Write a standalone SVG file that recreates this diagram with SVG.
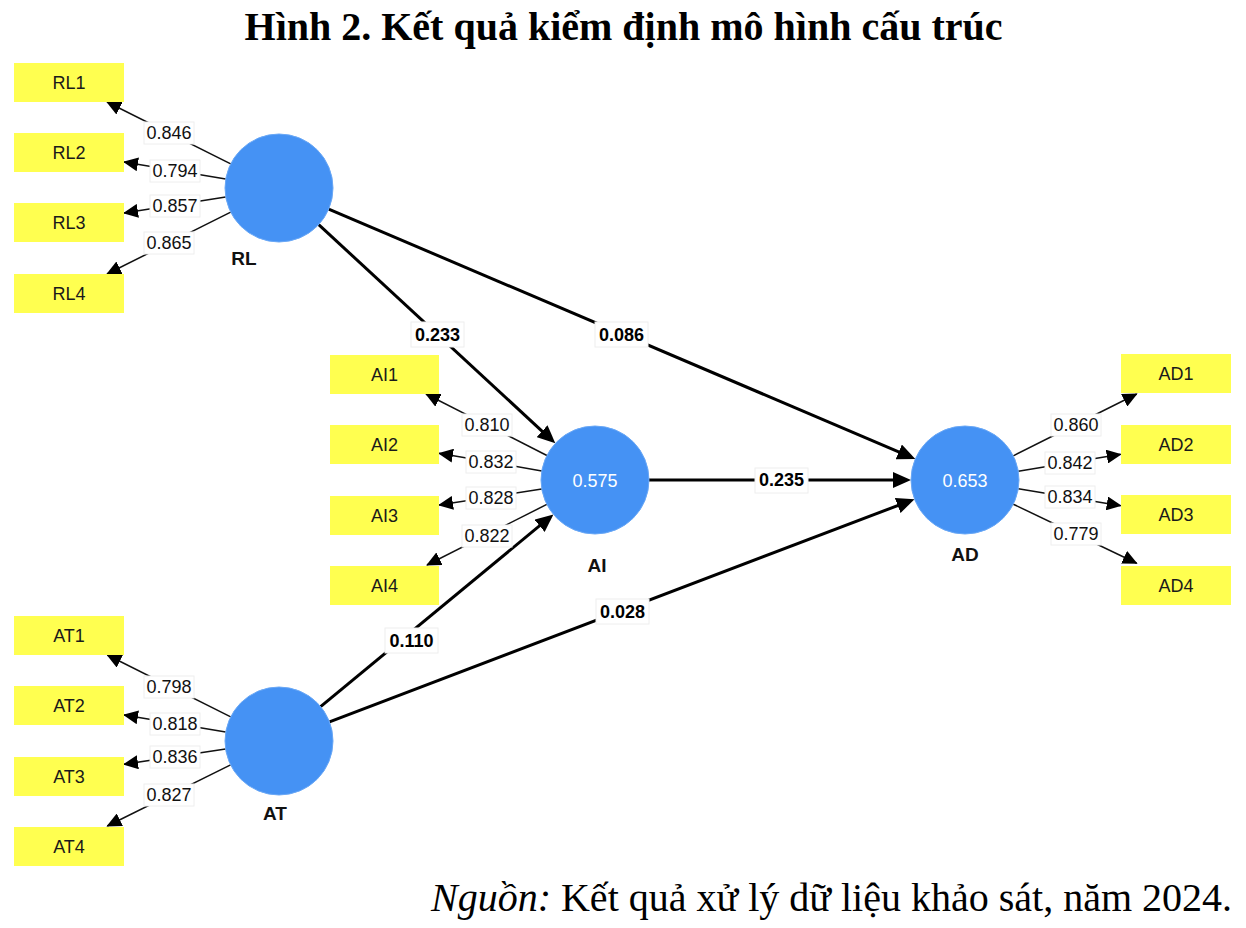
<svg xmlns="http://www.w3.org/2000/svg" width="1246" height="928" viewBox="0 0 1246 928">
<style>
.title{font-family:"Liberation Serif","Times New Roman",serif;font-weight:bold;font-size:40px;fill:#000}
.src{font-family:"Liberation Serif","Times New Roman",serif;font-size:40px;fill:#000}
.ind rect{fill:#ffff50}
.ind text{font-family:"Liberation Sans",Arial,sans-serif;font-size:18px;fill:#1a1a1a;text-anchor:middle}
.lat circle{fill:#4592f4;stroke:#6aa8f6;stroke-width:1}
.lat .val{font-family:"Liberation Sans",Arial,sans-serif;font-size:18px;fill:#fff;text-anchor:middle}
.lat .name{font-family:"Liberation Sans",Arial,sans-serif;font-size:19px;font-weight:bold;fill:#111;text-anchor:middle}
.ld{stroke:#111;stroke-width:1.5;fill:none;marker-end:url(#arrS)}
.pth{stroke:#000;stroke-width:3;fill:none;marker-end:url(#arrL)}
.lbl rect{fill:#fff;stroke:#eeeeee;stroke-width:1}
.lbl text{font-family:"Liberation Sans",Arial,sans-serif;font-size:18px;fill:#111;text-anchor:middle}
.plbl rect{fill:#fff;stroke:#eeeeee;stroke-width:1}
.plbl text{font-family:"Liberation Sans",Arial,sans-serif;font-size:18px;font-weight:bold;fill:#000;text-anchor:middle}
</style>
<defs>
<marker id="arrS" viewBox="0 0 15 14" markerWidth="15" markerHeight="14" refX="14" refY="7" orient="auto" markerUnits="userSpaceOnUse"><path d="M0,0 L15,7 L0,14 z" fill="#000"/></marker>
<marker id="arrL" viewBox="0 0 18 16" markerWidth="18" markerHeight="16" refX="12" refY="8" orient="auto" markerUnits="userSpaceOnUse"><path d="M0,0 L18,8 L0,16 z" fill="#000"/></marker>
</defs>
<rect x="0" y="0" width="1246" height="928" fill="#fff"/>
<text class="title" x="623.5" y="40" text-anchor="middle">Hình 2. Kết quả kiểm định mô hình cấu trúc</text>
<text class="src" x="1232" y="911" text-anchor="end"><tspan font-style="italic">Nguồn:</tspan> Kết quả xử lý dữ liệu khảo sát, năm 2024.</text>

<g id="connectors">
<!-- loadings RL -->
<line class="ld" x1="230.7" y1="163.8" x2="107" y2="102"/>
<line class="ld" x1="225.7" y1="179.1" x2="124" y2="162"/>
<line class="ld" x1="225.7" y1="196.9" x2="124" y2="213"/>
<line class="ld" x1="230.7" y1="212.2" x2="107" y2="274"/>
<!-- loadings AI -->
<line class="ld" x1="546.9" y1="455.5" x2="426" y2="394"/>
<line class="ld" x1="541.8" y1="470.9" x2="439" y2="453.3"/>
<line class="ld" x1="541.8" y1="489.1" x2="439" y2="505"/>
<line class="ld" x1="546.8" y1="504.4" x2="427" y2="565"/>
<!-- loadings AD -->
<line class="ld" x1="1013.3" y1="455.8" x2="1136.7" y2="394"/>
<line class="ld" x1="1018.3" y1="471.2" x2="1120.7" y2="454.3"/>
<line class="ld" x1="1018.3" y1="488.8" x2="1120.7" y2="505.7"/>
<line class="ld" x1="1013.3" y1="504.2" x2="1136.7" y2="563.3"/>
<!-- loadings AT -->
<line class="ld" x1="230.7" y1="716.8" x2="107.3" y2="655"/>
<line class="ld" x1="225.7" y1="732.1" x2="124" y2="715"/>
<line class="ld" x1="225.6" y1="749" x2="124" y2="764.3"/>
<line class="ld" x1="230.6" y1="764.9" x2="107.3" y2="826"/>
<!-- structural paths -->
<line class="pth" x1="318.7" y1="224.6" x2="550.9" y2="439.3"/>
<line class="pth" x1="328.7" y1="209.1" x2="909.8" y2="456.6"/>
<line class="pth" x1="649" y1="480" x2="905" y2="480"/>
<line class="pth" x1="320.6" y1="706.6" x2="548.8" y2="518.2"/>
<line class="pth" x1="329.5" y1="721.8" x2="908.9" y2="501.3"/>
<!-- loading labels -->
<g class="lbl">
<rect x="144" y="122" width="50" height="22"/><text x="169" y="139.4">0.846</text>
<rect x="150" y="160" width="50" height="22"/><text x="175" y="177.4">0.794</text>
<rect x="150" y="195" width="50" height="22"/><text x="175" y="212.4">0.857</text>
<rect x="144" y="232" width="50" height="22"/><text x="169" y="249.4">0.865</text>
<rect x="462" y="414" width="50" height="22"/><text x="487" y="431.4">0.810</text>
<rect x="466" y="451" width="50" height="22"/><text x="491" y="468.4">0.832</text>
<rect x="466" y="487" width="50" height="22"/><text x="491" y="504.4">0.828</text>
<rect x="462" y="525" width="50" height="22"/><text x="487" y="542.4">0.822</text>
<rect x="1051" y="414" width="50" height="22"/><text x="1076" y="431.4">0.860</text>
<rect x="1045" y="452" width="50" height="22"/><text x="1070" y="469.4">0.842</text>
<rect x="1045" y="486" width="50" height="22"/><text x="1070" y="503.4">0.834</text>
<rect x="1051" y="523" width="50" height="22"/><text x="1076" y="540.4">0.779</text>
<rect x="144" y="676" width="50" height="22"/><text x="169" y="693.4">0.798</text>
<rect x="150" y="713" width="50" height="22"/><text x="175" y="730.4">0.818</text>
<rect x="150" y="746" width="50" height="22"/><text x="175" y="763.4">0.836</text>
<rect x="144" y="784" width="50" height="22"/><text x="169" y="801.4">0.827</text>
</g>
<!-- path labels -->
<g class="plbl">
<rect x="411" y="322" width="53" height="25"/><text x="437.5" y="340.9">0.233</text>
<rect x="595" y="322" width="53" height="25"/><text x="621.5" y="340.9">0.086</text>
<rect x="755" y="468" width="53" height="25"/><text x="781.5" y="486.4">0.235</text>
<rect x="385" y="628" width="53" height="25"/><text x="411.5" y="646.9">0.110</text>
<rect x="596" y="599" width="53" height="25"/><text x="622.5" y="617.9">0.028</text>
</g>
</g>

<g id="RL" class="lat"><circle cx="279" cy="188" r="54"/><text class="name" x="244" y="264.5">RL</text></g>
<g id="AI" class="lat"><circle cx="595" cy="480" r="54"/><text class="val" x="595" y="486.5">0.575</text><text class="name" x="597" y="572">AI</text></g>
<g id="AD" class="lat"><circle cx="965" cy="480" r="54"/><text class="val" x="965" y="486.5">0.653</text><text class="name" x="965" y="561">AD</text></g>
<g id="AT" class="lat"><circle cx="279" cy="741" r="54"/><text class="name" x="275" y="819.5">AT</text></g>

<g id="RL1" class="ind"><rect x="14" y="63" width="110" height="39"/><text x="69" y="89">RL1</text></g>
<g id="RL2" class="ind"><rect x="14" y="133" width="110" height="39"/><text x="69" y="159">RL2</text></g>
<g id="RL3" class="ind"><rect x="14" y="203" width="110" height="39"/><text x="69" y="229">RL3</text></g>
<g id="RL4" class="ind"><rect x="14" y="274" width="110" height="39"/><text x="69" y="300">RL4</text></g>
<g id="AI1" class="ind"><rect x="330" y="355" width="109" height="39"/><text x="384.5" y="381">AI1</text></g>
<g id="AI2" class="ind"><rect x="330" y="425" width="109" height="39"/><text x="384.5" y="451">AI2</text></g>
<g id="AI3" class="ind"><rect x="330" y="496" width="109" height="39"/><text x="384.5" y="522">AI3</text></g>
<g id="AI4" class="ind"><rect x="330" y="566" width="109" height="39"/><text x="384.5" y="592">AI4</text></g>
<g id="AD1" class="ind"><rect x="1121" y="354" width="110" height="39"/><text x="1176" y="380">AD1</text></g>
<g id="AD2" class="ind"><rect x="1121" y="425" width="110" height="39"/><text x="1176" y="451">AD2</text></g>
<g id="AD3" class="ind"><rect x="1121" y="495" width="110" height="39"/><text x="1176" y="521">AD3</text></g>
<g id="AD4" class="ind"><rect x="1121" y="566" width="110" height="39"/><text x="1176" y="592">AD4</text></g>
<g id="AT1" class="ind"><rect x="14" y="616" width="110" height="39"/><text x="69" y="642">AT1</text></g>
<g id="AT2" class="ind"><rect x="14" y="686" width="110" height="39"/><text x="69" y="712">AT2</text></g>
<g id="AT3" class="ind"><rect x="14" y="757" width="110" height="39"/><text x="69" y="783">AT3</text></g>
<g id="AT4" class="ind"><rect x="14" y="827" width="110" height="39"/><text x="69" y="853">AT4</text></g>
</svg>
